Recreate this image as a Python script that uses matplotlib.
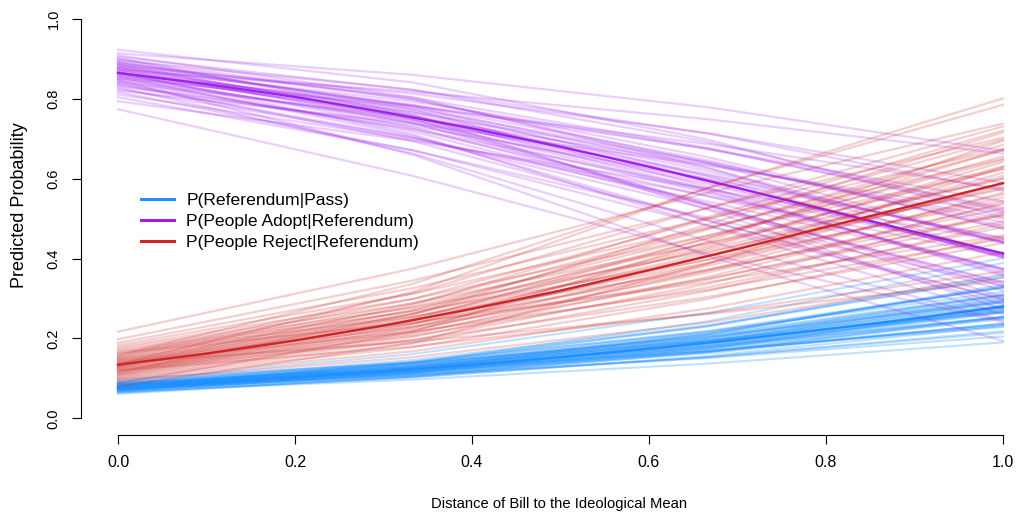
import matplotlib
matplotlib.use("Agg")
import matplotlib.pyplot as plt
from matplotlib.lines import Line2D

# x positions of the mean curves and of the simulated curves
x_grid = [0.0, 0.1, 0.2, 0.3, 0.4, 0.5, 0.6, 0.7, 0.8, 0.9, 1.0]
sim_x = [0.0, 1 / 3, 2 / 3, 1.0]

# mean predicted probabilities
blue_mean = [0.077, 0.089, 0.102, 0.117, 0.134, 0.153, 0.174, 0.197, 0.223, 0.250, 0.280]
purple_mean = [0.865, 0.837, 0.805, 0.767, 0.726, 0.680, 0.630, 0.577, 0.522, 0.467, 0.413]
red_mean = [0.134, 0.162, 0.195, 0.232, 0.274, 0.320, 0.371, 0.424, 0.479, 0.534, 0.589]

labels = ["P(Referendum|Pass)", "P(People Adopt|Referendum)", "P(People Reject|Referendum)"]
tick_values = [0.0, 0.2, 0.4, 0.6, 0.8, 1.0]
tick_labels = ["0.0", "0.2", "0.4", "0.6", "0.8", "1.0"]

# simulated curves (values at sim_x)
blue_sims = [
    [0.061, 0.105, 0.174, 0.275], [0.064, 0.104, 0.166, 0.254], [0.065, 0.102, 0.156, 0.231],
    [0.066, 0.115, 0.192, 0.302], [0.067, 0.097, 0.137, 0.190], [0.068, 0.112, 0.179, 0.273],
    [0.069, 0.109, 0.167, 0.249], [0.070, 0.123, 0.210, 0.334], [0.070, 0.104, 0.153, 0.218],
    [0.071, 0.118, 0.189, 0.290], [0.071, 0.114, 0.176, 0.264], [0.072, 0.109, 0.163, 0.237],
    [0.072, 0.122, 0.199, 0.307], [0.073, 0.117, 0.184, 0.277], [0.073, 0.113, 0.172, 0.251],
    [0.073, 0.127, 0.211, 0.330], [0.074, 0.107, 0.153, 0.214], [0.074, 0.122, 0.193, 0.292],
    [0.075, 0.117, 0.180, 0.266], [0.075, 0.139, 0.243, 0.389], [0.076, 0.113, 0.166, 0.237],
    [0.076, 0.126, 0.202, 0.308], [0.076, 0.122, 0.188, 0.279], [0.077, 0.117, 0.175, 0.253],
    [0.077, 0.131, 0.213, 0.328], [0.077, 0.109, 0.151, 0.205], [0.078, 0.126, 0.196, 0.294],
    [0.078, 0.121, 0.183, 0.267], [0.079, 0.138, 0.231, 0.361], [0.079, 0.116, 0.168, 0.236],
    [0.079, 0.130, 0.206, 0.309], [0.080, 0.125, 0.192, 0.281], [0.080, 0.121, 0.178, 0.254],
    [0.081, 0.135, 0.216, 0.327], [0.081, 0.129, 0.200, 0.295], [0.082, 0.125, 0.186, 0.268],
    [0.082, 0.141, 0.230, 0.353], [0.083, 0.119, 0.168, 0.233], [0.083, 0.134, 0.209, 0.311],
    [0.084, 0.130, 0.195, 0.284], [0.084, 0.125, 0.181, 0.254], [0.085, 0.139, 0.219, 0.328],
    [0.086, 0.134, 0.204, 0.298], [0.087, 0.130, 0.191, 0.271], [0.087, 0.146, 0.233, 0.352],
    [0.088, 0.124, 0.170, 0.229], [0.090, 0.142, 0.217, 0.317], [0.091, 0.138, 0.204, 0.291],
    [0.093, 0.161, 0.264, 0.401], [0.098, 0.139, 0.195, 0.267],
]
purple_sims = [
    [0.774, 0.607, 0.412, 0.241], [0.794, 0.695, 0.574, 0.443], [0.804, 0.671, 0.502, 0.333],
    [0.811, 0.699, 0.557, 0.405], [0.817, 0.671, 0.483, 0.299], [0.821, 0.738, 0.633, 0.514],
    [0.825, 0.703, 0.543, 0.374], [0.829, 0.663, 0.444, 0.245], [0.832, 0.732, 0.600, 0.452],
    [0.835, 0.703, 0.525, 0.341], [0.837, 0.725, 0.575, 0.410], [0.840, 0.694, 0.495, 0.297],
    [0.842, 0.753, 0.636, 0.500], [0.844, 0.723, 0.556, 0.375], [0.847, 0.660, 0.406, 0.194],
    [0.849, 0.747, 0.608, 0.449], [0.850, 0.718, 0.532, 0.338], [0.852, 0.781, 0.687, 0.575],
    [0.854, 0.742, 0.586, 0.410], [0.856, 0.707, 0.496, 0.286], [0.858, 0.766, 0.640, 0.491],
    [0.859, 0.738, 0.564, 0.373], [0.861, 0.758, 0.612, 0.444], [0.863, 0.729, 0.535, 0.330],
    [0.864, 0.784, 0.675, 0.543], [0.866, 0.753, 0.591, 0.406], [0.867, 0.711, 0.482, 0.260],
    [0.869, 0.775, 0.642, 0.482], [0.870, 0.748, 0.568, 0.368], [0.872, 0.818, 0.749, 0.663],
    [0.874, 0.770, 0.619, 0.441], [0.875, 0.740, 0.537, 0.320], [0.877, 0.793, 0.674, 0.527],
    [0.878, 0.766, 0.598, 0.404], [0.880, 0.785, 0.646, 0.476], [0.881, 0.759, 0.572, 0.362],
    [0.883, 0.813, 0.714, 0.590], [0.885, 0.782, 0.625, 0.438], [0.887, 0.749, 0.533, 0.304],
    [0.888, 0.803, 0.677, 0.518], [0.890, 0.780, 0.606, 0.402], [0.892, 0.798, 0.654, 0.474],
    [0.894, 0.774, 0.579, 0.357], [0.897, 0.823, 0.713, 0.570], [0.899, 0.799, 0.639, 0.440],
    [0.902, 0.760, 0.522, 0.273], [0.905, 0.822, 0.692, 0.521], [0.909, 0.804, 0.628, 0.409],
    [0.914, 0.860, 0.779, 0.670], [0.923, 0.841, 0.698, 0.504],
]
red_sims = [
    [0.080, 0.189, 0.387, 0.630], [0.088, 0.217, 0.443, 0.695], [0.093, 0.153, 0.240, 0.357],
    [0.097, 0.168, 0.275, 0.416], [0.100, 0.178, 0.299, 0.455], [0.102, 0.188, 0.319, 0.487],
    [0.105, 0.196, 0.337, 0.515], [0.107, 0.204, 0.354, 0.540], [0.109, 0.211, 0.371, 0.565],
    [0.111, 0.219, 0.388, 0.589], [0.112, 0.227, 0.407, 0.615], [0.114, 0.236, 0.427, 0.642],
    [0.116, 0.247, 0.451, 0.673], [0.117, 0.261, 0.486, 0.716], [0.119, 0.180, 0.263, 0.368],
    [0.120, 0.196, 0.304, 0.439], [0.122, 0.207, 0.328, 0.479], [0.123, 0.215, 0.348, 0.509],
    [0.125, 0.223, 0.365, 0.536], [0.126, 0.230, 0.382, 0.561], [0.128, 0.237, 0.398, 0.584],
    [0.129, 0.244, 0.414, 0.607], [0.130, 0.252, 0.432, 0.631], [0.132, 0.261, 0.451, 0.656],
    [0.133, 0.271, 0.473, 0.685], [0.135, 0.284, 0.504, 0.721], [0.136, 0.317, 0.577, 0.801],
    [0.138, 0.192, 0.261, 0.344], [0.139, 0.217, 0.322, 0.449], [0.141, 0.229, 0.350, 0.493],
    [0.142, 0.238, 0.370, 0.526], [0.144, 0.246, 0.389, 0.553], [0.146, 0.254, 0.406, 0.578],
    [0.147, 0.262, 0.423, 0.601], [0.149, 0.270, 0.439, 0.624], [0.151, 0.279, 0.457, 0.647],
    [0.153, 0.288, 0.476, 0.671], [0.155, 0.299, 0.498, 0.698], [0.157, 0.313, 0.527, 0.731],
    [0.159, 0.337, 0.577, 0.785], [0.162, 0.240, 0.341, 0.458], [0.164, 0.255, 0.373, 0.509],
    [0.167, 0.267, 0.397, 0.545], [0.170, 0.277, 0.418, 0.574], [0.174, 0.288, 0.438, 0.600],
    [0.178, 0.299, 0.458, 0.625], [0.183, 0.312, 0.478, 0.650], [0.189, 0.326, 0.501, 0.675],
    [0.198, 0.345, 0.527, 0.703], [0.217, 0.375, 0.565, 0.738],
]

BLUE = "#1E90FF"
PURPLE = "#A020F0"
RED = "#CD2626"
FONT = "Liberation Sans"

W, H = 1017, 515
fig = plt.figure(figsize=(W / 100, H / 100), dpi=100)
L_, R_, B_, T_ = 81, 1010, 435, 12
ax = fig.add_axes([L_ / W, 1 - B_ / H, (R_ - L_) / W, (B_ - T_) / H])
x0, sx = 118, 885
y0, sy = 418.3, 399.3
ax.set_xlim((L_ - x0) / sx, (R_ - x0) / sx)
ax.set_ylim((y0 - B_) / sy, (y0 - T_) / sy)

for row in blue_sims:
    ax.plot(sim_x, row, color=BLUE, alpha=0.28, lw=1.5)
ax.plot(x_grid, blue_mean, color=BLUE, lw=1.7)
for row in purple_sims:
    ax.plot(sim_x, row, color=PURPLE, alpha=0.22, lw=1.6)
ax.plot(x_grid, purple_mean, color=PURPLE, lw=1.7)
for row in red_sims:
    ax.plot(sim_x, row, color=RED, alpha=0.22, lw=1.6)
ax.plot(x_grid, red_mean, color=RED, lw=1.7)

for s in ["top", "right"]:
    ax.spines[s].set_visible(False)
ax.spines["left"].set_bounds(0, 1)
ax.spines["bottom"].set_bounds(0, 1)
ax.spines["left"].set_linewidth(0.8)
ax.spines["bottom"].set_linewidth(0.8)
ax.set_xticks(tick_values)
ax.set_yticks(tick_values)
ax.set_xticklabels(tick_labels)
ax.set_yticklabels(tick_labels)
ax.tick_params(axis="both", length=6.5, width=0.8, direction="out")
ax.tick_params(axis="x", pad=8, labelsize=11.5)
ax.tick_params(axis="y", pad=8, labelsize=10.5)
for lab in ax.get_yticklabels():
    lab.set_rotation(90)
    lab.set_va("center")
    lab.set_ha("right")
for lab in ax.get_xticklabels() + ax.get_yticklabels():
    lab.set_family(FONT)

fig.text(559.5 / W, 1 - 504 / H, "Distance of Bill to the Ideological Mean",
         ha="center", va="center", fontsize=10.6, family=FONT)
fig.text(20 / W, 1 - 205 / H, "Predicted Probability", rotation=90,
         ha="center", va="center", fontsize=13, family=FONT)

handles = [Line2D([], [], color=c, lw=2.2) for c in (BLUE, PURPLE, RED)]
fig.legend(handles, labels, loc="upper left",
           bbox_to_anchor=(141 / W, 1 - 193 / H), frameon=False,
           borderpad=0, borderaxespad=0, handlelength=1.9, handletextpad=0.7,
           labelspacing=0.32, prop={"family": FONT, "size": 12.6})

fig.savefig("out.png", dpi=100)
